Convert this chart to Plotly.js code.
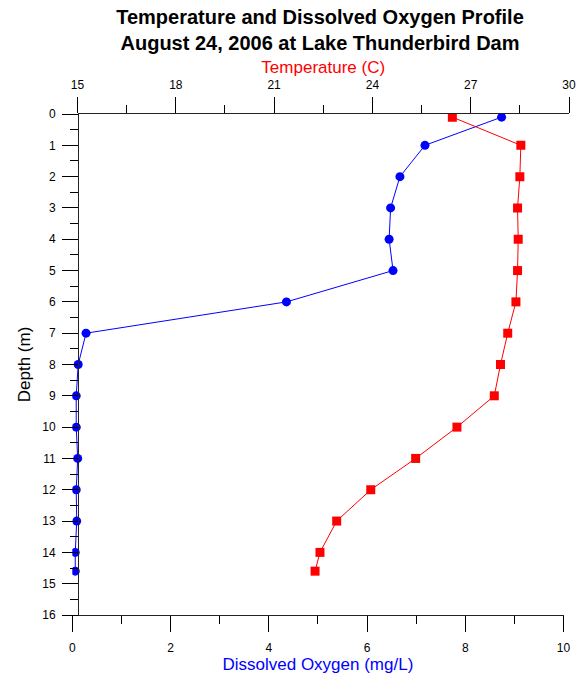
<!DOCTYPE html>
<html>
<head>
<meta charset="utf-8">
<script src="https://cdn.plot.ly/plotly-3.0.1.min.js"></script>
<style>html,body{margin:0;padding:0;background:#fff;}#chart{width:583px;height:675px;}</style>
</head>
<body>
<div id="chart"></div>
<script>
// Data
const depthDO = [0.1, 1, 2, 3, 4, 5, 6, 7, 8, 9, 10, 11, 12, 13, 14, 14.6];
const dissolvedOxygen = [8.74, 7.18, 6.67, 6.48, 6.45, 6.53, 4.36, 0.28, 0.12, 0.08, 0.08, 0.11, 0.08, 0.09, 0.06, 0.06];
const depthTemp = [0.1, 1, 2, 3, 4, 5, 6, 7, 8, 9, 10, 11, 12, 13, 14, 14.6];
const temperature = [26.44, 28.53, 28.50, 28.43, 28.45, 28.43, 28.38, 28.13, 27.91, 27.72, 26.58, 25.32, 23.95, 22.91, 22.40, 22.25];
const doTicks = [0, 2, 4, 6, 8, 10];
const tempTicks = [15, 18, 21, 24, 27, 30];
const depthTicks = [0,1,2,3,4,5,6,7,8,9,10,11,12,13,14,15,16];

const W = 583, H = 675;
const FONT = "Liberation Sans, Arial, sans-serif";

const traces = [
  {
    x: temperature, y: depthTemp, xaxis: 'x2', yaxis: 'y',
    mode: 'lines+markers', type: 'scatter', name: 'Temperature',
    line: {color: '#ff0000', width: 1},
    marker: {color: '#ff0000', symbol: 'square', size: 9}
  },
  {
    x: dissolvedOxygen, y: depthDO, xaxis: 'x', yaxis: 'y',
    mode: 'lines+markers', type: 'scatter', name: 'Dissolved Oxygen',
    line: {color: '#0000ff', width: 1},
    marker: {color: '#0000ff', symbol: 'circle', size: 9}
  }
];

const axisCommon = {
  showgrid: false, zeroline: false, showline: true, linecolor: '#222', linewidth: 1,
  ticks: 'outside', ticklen: 16, tickwidth: 1, tickcolor: '#000',
  tickfont: {family: FONT, size: 12, color: '#000'},
  automargin: false, fixedrange: true
};

const layout = {
  width: W, height: H,
  margin: {l: 0, r: 0, t: 0, b: 0, pad: 0},
  paper_bgcolor: '#fff', plot_bgcolor: 'rgba(0,0,0,0)',
  showlegend: false,
  title: {
    text: '<b>Temperature and Dissolved Oxygen Profile<br>August 24, 2006 at Lake Thunderbird Dam</b>',
    font: {family: FONT, size: 20, color: '#000'},
    x: 320 / W, xref: 'paper', xanchor: 'center',
    y: 1 - 24 / H, yref: 'container', yanchor: 'top'
  },
  xaxis: Object.assign({}, axisCommon, {
    domain: [72.3 / W, 563.5 / W], anchor: 'y', side: 'bottom',
    range: [0, 10], tickvals: doTicks, ticktext: doTicks.map(String),
    ticklabelstandoff: 6,
    minor: {ticks: 'outside', ticklen: 8, dtick: 1, tickcolor: '#000', tickwidth: 1},
    title: {text: 'Dissolved Oxygen (mg/L)', standoff: 2, font: {family: FONT, size: 17, color: '#0000ff'}}
  }),
  xaxis2: Object.assign({}, axisCommon, {
    domain: [77.5 / W, 569 / W], anchor: 'y', side: 'top',
    range: [15, 30], tickvals: tempTicks, ticktext: tempTicks.map(String),
    ticklabelstandoff: 3,
    minor: {ticks: 'outside', ticklen: 8, dtick: 1.5, tickcolor: '#000', tickwidth: 1},
    title: {text: 'Temperature (C)', standoff: 0, font: {family: FONT, size: 17, color: '#ff0000'}}
  }),
  yaxis: Object.assign({}, axisCommon, {
    domain: [(H - 615) / H, (H - 114) / H], anchor: 'free', position: 78 / W,
    range: [16, 0], tickvals: depthTicks, ticktext: depthTicks.map(String),
    ticklabelstandoff: 4,
    minor: {ticks: 'outside', ticklen: 8, dtick: 0.5, tickcolor: '#000', tickwidth: 1},
    title: {text: 'Depth (m)', standoff: 6, font: {family: FONT, size: 17, color: '#000'}}
  })
};

Plotly.newPlot('chart', traces, layout, {displayModeBar: false, staticPlot: true});
</script>
</body>
</html>
